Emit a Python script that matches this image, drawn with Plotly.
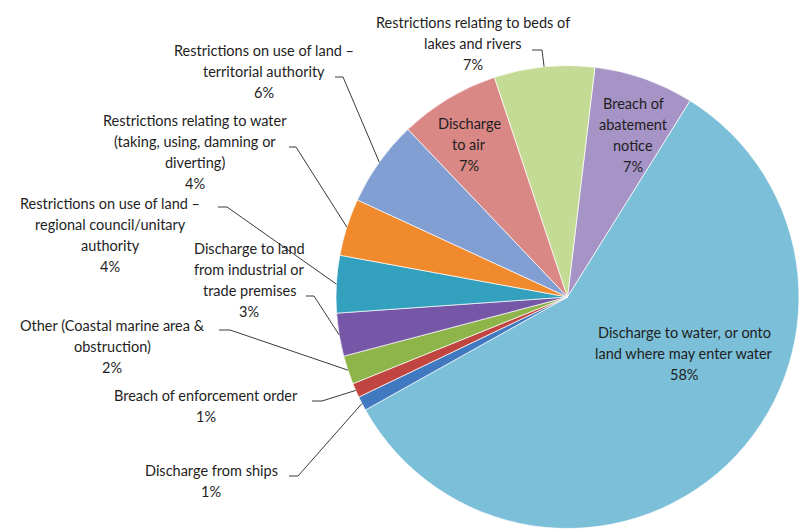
import math
import plotly.graph_objects as go

# ---- data ----
categories = [
    "Breach of abatement notice",
    "Discharge to water, or onto land where may enter water",
    "Discharge from ships",
    "Breach of enforcement order",
    "Other (Coastal marine area & obstruction)",
    "Discharge to land from industrial or trade premises",
    "Restrictions on use of land – regional council/unitary authority",
    "Restrictions relating to water (taking, using, damning or diverting)",
    "Restrictions on use of land – territorial authority",
    "Discharge to air",
    "Restrictions relating to beds of lakes and rivers",
]
values = [7, 58, 1, 1, 2, 3, 4, 4, 6, 7, 7]
label_lines = [
    ["Breach of", "abatement", "notice"],
    ["Discharge to water, or onto", "land where may enter water"],
    ["Discharge from ships"],
    ["Breach of enforcement order"],
    ["Other (Coastal marine area &", "obstruction)"],
    ["Discharge to land", "from industrial or", "trade premises"],
    ["Restrictions on use of land –", "regional council/unitary", "authority"],
    ["Restrictions relating to water", "(taking, using, damning or", "diverting)"],
    ["Restrictions on use of land –", "territorial authority"],
    ["Discharge", "to air"],
    ["Restrictions relating to beds of", "lakes and rivers"],
]

# ---- styles / layout ----
colors = ["#A794C6", "#7CBFD8", "#4079BF", "#C0443F", "#8DB54A", "#7656A6",
          "#33A1BD", "#F08A2C", "#819FD2", "#D98886", "#C4DB95"]
W, H = 799, 531
CX, CY, R = 567.5, 297.0, 231.5
ROTATION = 6.8
LINE_H = 21
FONT = dict(family="Lato, 'Open Sans', sans-serif", size=14.5, color="#1e1e1e")

# label placement (pixels): centre x, first-line y, leader elbow (x_start, x_end, y) or None
label_pos = [
    (633, 103, None),
    (684, 332, None),
    (211, 470, (289, 298, 476)),
    (206, 395, (312, 322, 401)),
    (112, 325, (219, 230, 330)),
    (249, 248, (306, 314, 296)),
    (110, 203, (218, 227, 207)),
    (195, 120, (289, 296, 147)),
    (264, 50, (335, 343, 77)),
    (469, 123, None),
    (473, 22, (532, 542, 50)),
]

fig = go.Figure()
fig.add_trace(go.Pie(
    labels=categories, values=values, sort=False, direction="clockwise",
    rotation=ROTATION, textinfo="none", hoverinfo="label+percent",
    marker=dict(colors=colors, line=dict(color="rgba(255,255,255,0.7)", width=1)),
    domain=dict(x=[(CX - R) / W, min(1.0, (CX + R) / W)],
                y=[(H - CY - R) / H, (H - CY + R) / H]),
    showlegend=False,
))

total = sum(values)
cum = 0
annotations = []
shapes = []
for v, lines, (lx, ly, elbow) in zip(values, label_lines, label_pos):
    mid = math.radians(ROTATION + (cum + v / 2) / total * 360)
    cum += v
    all_lines = lines + [f"{v}%"]
    for i, t in enumerate(all_lines):
        annotations.append(dict(x=lx, y=ly + i * LINE_H, xref="x", yref="y", text=t,
                                showarrow=False, xanchor="center", yanchor="middle",
                                font=FONT))
    if elbow:
        ax = CX + R * math.sin(mid)
        ay = CY - R * math.cos(mid)
        x0, x1, y0 = elbow
        shapes.append(dict(type="path", xref="x", yref="y", layer="above",
                           path=f"M {x0} {y0} L {x1} {y0} L {ax:.1f} {ay:.1f}",
                           line=dict(color="#3a3a3a", width=1)))

fig.update_layout(
    width=W, height=H, margin=dict(l=0, r=0, t=0, b=0),
    paper_bgcolor="white", plot_bgcolor="rgba(0,0,0,0)",
    xaxis=dict(range=[0, W], visible=False, fixedrange=True),
    yaxis=dict(range=[H, 0], visible=False, fixedrange=True),
    annotations=annotations, shapes=shapes,
)
fig.write_html("out.html", config={"displayModeBar": False},
               post_script="document.body.style.margin='0';")
